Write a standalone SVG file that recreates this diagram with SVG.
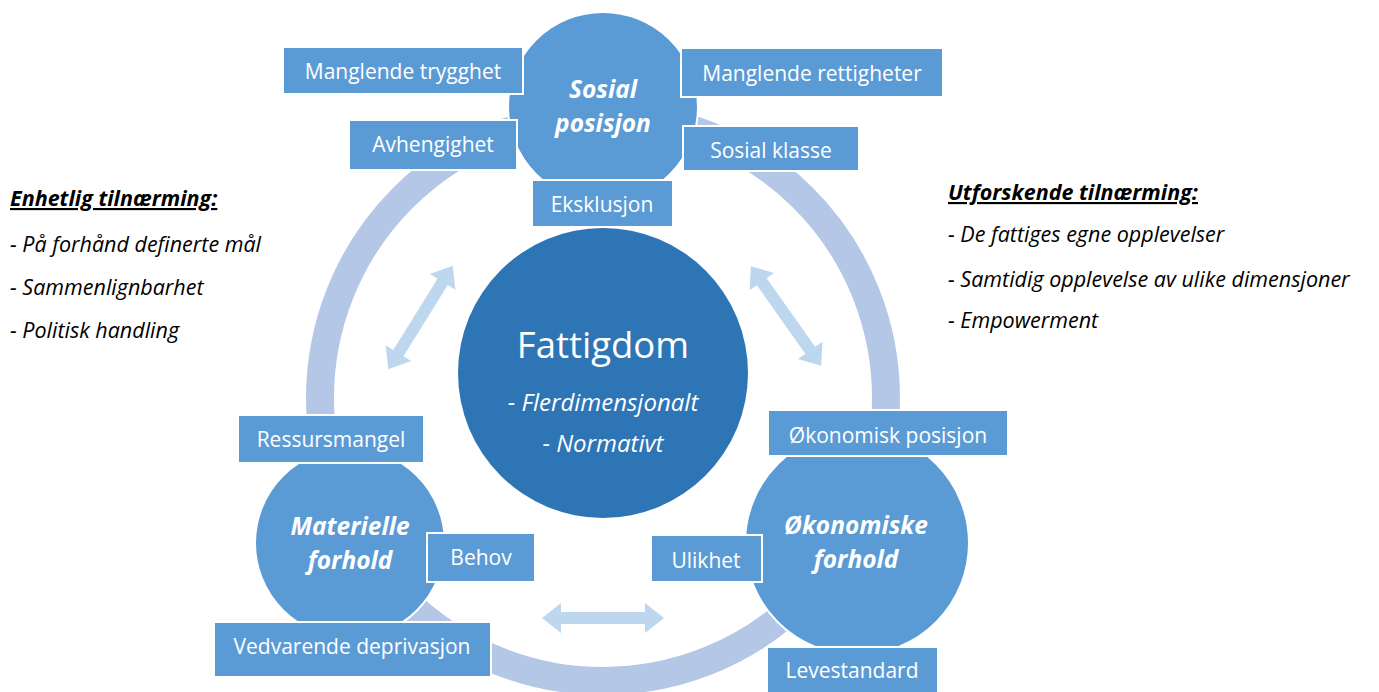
<svg xmlns="http://www.w3.org/2000/svg" width="1379" height="692" viewBox="0 0 1379 692">
<defs>
<style>
.node{fill:#5b9bd5;stroke:#ffffff;stroke-width:2}
.box{fill:#5b9bd5;stroke:#ffffff;stroke-width:2}
.bt{font-family:"Open Sans","Liberation Sans",sans-serif;font-size:21px;fill:#ffffff;text-anchor:middle}
.ct{font-family:"Open Sans","Liberation Sans",sans-serif;font-size:24.5px;font-weight:bold;font-style:italic;fill:#ffffff;text-anchor:middle}
.side{font-family:"Open Sans","Liberation Sans",sans-serif;font-size:21.5px;font-style:italic;fill:#000000}
.sideh{font-weight:bold;text-decoration:underline}
.arr{fill:#bdd7ee}
</style>
<path id="darrow" d="M-61,0 L-42,-15 L-42,-6 L42,-6 L42,-15 L61,0 L42,15 L42,6 L-42,6 L-42,15 Z"/>
</defs>
<rect width="1379" height="692" fill="#ffffff"/>

<g id="connectors">
<circle cx="603" cy="398" r="283" fill="none" stroke="#b4c7e7" stroke-width="28"/>
<use href="#darrow" class="arr" transform="translate(420.5,317.5) rotate(-58.2)"/>
<use href="#darrow" class="arr" transform="translate(786,316) rotate(54.8)"/>
<use href="#darrow" class="arr" transform="translate(603,618)"/>
</g>

<g id="center">
<circle cx="603" cy="373" r="145" fill="#2e75b6"/>
<text x="603" y="358" font-family="'Open Sans','Liberation Sans',sans-serif" font-size="36.5" fill="#ffffff" text-anchor="middle">Fattigdom</text>
<text x="603" y="411" font-family="'Open Sans','Liberation Sans',sans-serif" font-size="24" font-style="italic" fill="#ffffff" text-anchor="middle">- Flerdimensjonalt</text>
<text x="603" y="452" font-family="'Open Sans','Liberation Sans',sans-serif" font-size="24" font-style="italic" fill="#ffffff" text-anchor="middle">- Normativt</text>
</g>

<g id="sosial">
<circle class="node" cx="603" cy="107" r="95"/>
<text class="ct" x="603" y="98">Sosial</text>
<text class="ct" x="603" y="132">posisjon</text>
</g>
<g id="manglende-trygghet">
<rect class="box" x="283" y="47" width="240" height="47"/>
<text class="bt" x="403" y="79">Manglende trygghet</text>
</g>
<g id="manglende-rettigheter">
<rect class="box" x="681" y="48" width="262" height="49"/>
<text class="bt" x="812" y="81">Manglende rettigheter</text>
</g>
<g id="avhengighet">
<rect class="box" x="349" y="120" width="168" height="50"/>
<text class="bt" x="433" y="152">Avhengighet</text>
</g>
<g id="sosial-klasse">
<rect class="box" x="683" y="126" width="176" height="45"/>
<text class="bt" x="771" y="158">Sosial klasse</text>
</g>
<g id="eksklusjon">
<rect class="box" x="532" y="180" width="141" height="47"/>
<text class="bt" x="602" y="212">Eksklusjon</text>
</g>

<g id="materielle">
<circle class="node" cx="350" cy="543" r="95"/>
<text class="ct" x="350" y="535">Materielle</text>
<text class="ct" x="350" y="569">forhold</text>
</g>
<g id="ressursmangel">
<rect class="box" x="238" y="415" width="186" height="48"/>
<text class="bt" x="331" y="447">Ressursmangel</text>
</g>
<g id="behov">
<rect class="box" x="427" y="533" width="108" height="49"/>
<text class="bt" x="481" y="565">Behov</text>
</g>
<g id="vedvarende-deprivasjon">
<rect class="box" x="214" y="622" width="277" height="55"/>
<text class="bt" x="352" y="654">Vedvarende deprivasjon</text>
</g>

<g id="okonomiske">
<circle class="node" cx="857" cy="543" r="112"/>
<text class="ct" x="856" y="534">Økonomiske</text>
<text class="ct" x="856" y="568">forhold</text>
</g>
<g id="okonomisk-posisjon">
<rect class="box" x="768" y="410" width="240" height="46"/>
<text class="bt" x="888" y="443">Økonomisk posisjon</text>
</g>
<g id="ulikhet">
<rect class="box" x="651" y="535" width="111" height="47"/>
<text class="bt" x="706" y="568">Ulikhet</text>
</g>
<g id="levestandard">
<rect class="box" x="767" y="647" width="171" height="50"/>
<text class="bt" x="852" y="678">Levestandard</text>
</g>

<g id="left-text">
<text class="side sideh" x="10" y="206">Enhetlig tilnærming:</text>
<text class="side" x="10" y="252">- På forhånd definerte mål</text>
<text class="side" x="10" y="295">- Sammenlignbarhet</text>
<text class="side" x="10" y="338">- Politisk handling</text>
</g>
<g id="right-text">
<text class="side sideh" x="948" y="200">Utforskende tilnærming:</text>
<text class="side" x="948" y="242">- De fattiges egne opplevelser</text>
<text class="side" x="948" y="287">- Samtidig opplevelse av ulike dimensjoner</text>
<text class="side" x="948" y="328">- Empowerment</text>
</g>
</svg>
